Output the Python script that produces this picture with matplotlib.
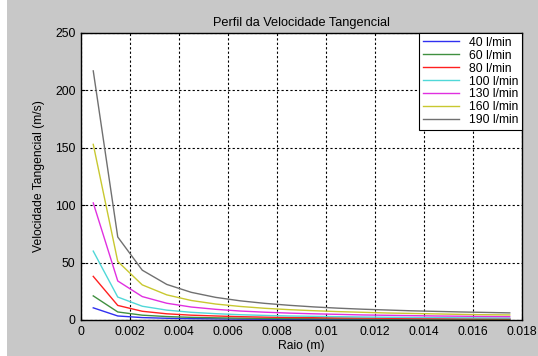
import matplotlib
matplotlib.use('Agg')
import matplotlib.pyplot as plt
from matplotlib.patches import Rectangle

plt.rcParams['font.family'] = ['Liberation Sans', 'DejaVu Sans']

raio = [0.0005, 0.0015, 0.0025, 0.0035, 0.0045, 0.0055, 0.0065, 0.0075, 0.0085,
        0.0095, 0.0105, 0.0115, 0.0125, 0.0135, 0.0145, 0.0155, 0.0165, 0.0175]

v40 = [10.6, 3.5, 2.1, 1.5, 1.2, 1.0, 0.8, 0.7, 0.6, 0.6, 0.5, 0.5, 0.4, 0.4, 0.4, 0.3, 0.3, 0.3]
v60 = [21, 7.0, 4.2, 3.0, 2.3, 1.9, 1.6, 1.4, 1.2, 1.1, 1.0, 0.9, 0.8, 0.8, 0.7, 0.7, 0.6, 0.6]
v80 = [38, 12.7, 7.6, 5.4, 4.2, 3.5, 2.9, 2.5, 2.2, 2.0, 1.8, 1.7, 1.5, 1.4, 1.3, 1.2, 1.2, 1.1]
v100 = [60, 20.0, 12.0, 8.6, 6.7, 5.5, 4.6, 4.0, 3.5, 3.2, 2.9, 2.6, 2.4, 2.2, 2.1, 1.9, 1.8, 1.7]
v130 = [102, 34.0, 20.4, 14.6, 11.3, 9.3, 7.8, 6.8, 6.0, 5.4, 4.9, 4.4, 4.1, 3.8, 3.5, 3.3, 3.1, 2.9]
v160 = [153, 51.0, 30.6, 21.9, 17.0, 13.9, 11.8, 10.2, 9.0, 8.1, 7.3, 6.7, 6.1, 5.7, 5.3, 4.9, 4.6, 4.4]
v190 = [217, 72.3, 43.4, 31.0, 24.1, 19.7, 16.7, 14.5, 12.8, 11.4, 10.3, 9.4, 8.7, 8.0, 7.5, 7.0, 6.6, 6.2]

series = [v40, v60, v80, v100, v130, v160, v190]
labels = ['40 l/min', '60 l/min', '80 l/min', '100 l/min', '130 l/min', '160 l/min', '190 l/min']
colors = ['#3030f0', '#409040', '#ff2020', '#50d8d8', '#e030e0', '#c8c830', '#707070']

xticks = [0, 0.002, 0.004, 0.006, 0.008, 0.01, 0.012, 0.014, 0.016, 0.018]
xticklabels = ['0', '0.002', '0.004', '0.006', '0.008', '0.01', '0.012', '0.014', '0.016', '0.018']
yticks = [0, 50, 100, 150, 200, 250]

fig = plt.figure(figsize=(5.38, 3.56), dpi=100, facecolor='#c8c8c8')
fig.patches.append(Rectangle((0, 0), 7 / 538, 1, transform=fig.transFigure,
                             facecolor='white', edgecolor='none', zorder=-1))
ax = fig.add_axes([81 / 538, 36 / 356, 441 / 538, 287 / 356])

for vals, lab, col in zip(series, labels, colors):
    ax.plot(raio, vals, color=col, linewidth=1.0, label=lab)

ax.set_xlim(0, 0.018)
ax.set_ylim(0, 250)
ax.set_xticks(xticks)
ax.set_xticklabels(xticklabels)
ax.set_yticks(yticks)
ax.tick_params(direction='in', length=3, labelsize=8.7, colors='black', pad=4)
ax.grid(True, color='black', linestyle=(0, (2, 2)), linewidth=0.8)
for s in ax.spines.values():
    s.set_linewidth(1.0)

ax.set_title('Perfil da Velocidade Tangencial', fontsize=9.2, pad=5)
ax.set_xlabel('Raio (m)', fontsize=8.7, labelpad=2)
ax.set_ylabel('Velocidade Tangencial (m/s)', fontsize=8.7, labelpad=7)

leg = ax.legend(loc='upper right', bbox_to_anchor=(1, 1), borderaxespad=0,
                fontsize=8.7, fancybox=False, framealpha=1, edgecolor='black',
                handlelength=3.0, labelspacing=0.08, borderpad=0.3, handletextpad=0.8)
leg.get_frame().set_linewidth(0.8)

fig.savefig('out.png', dpi=100, facecolor=fig.get_facecolor())
